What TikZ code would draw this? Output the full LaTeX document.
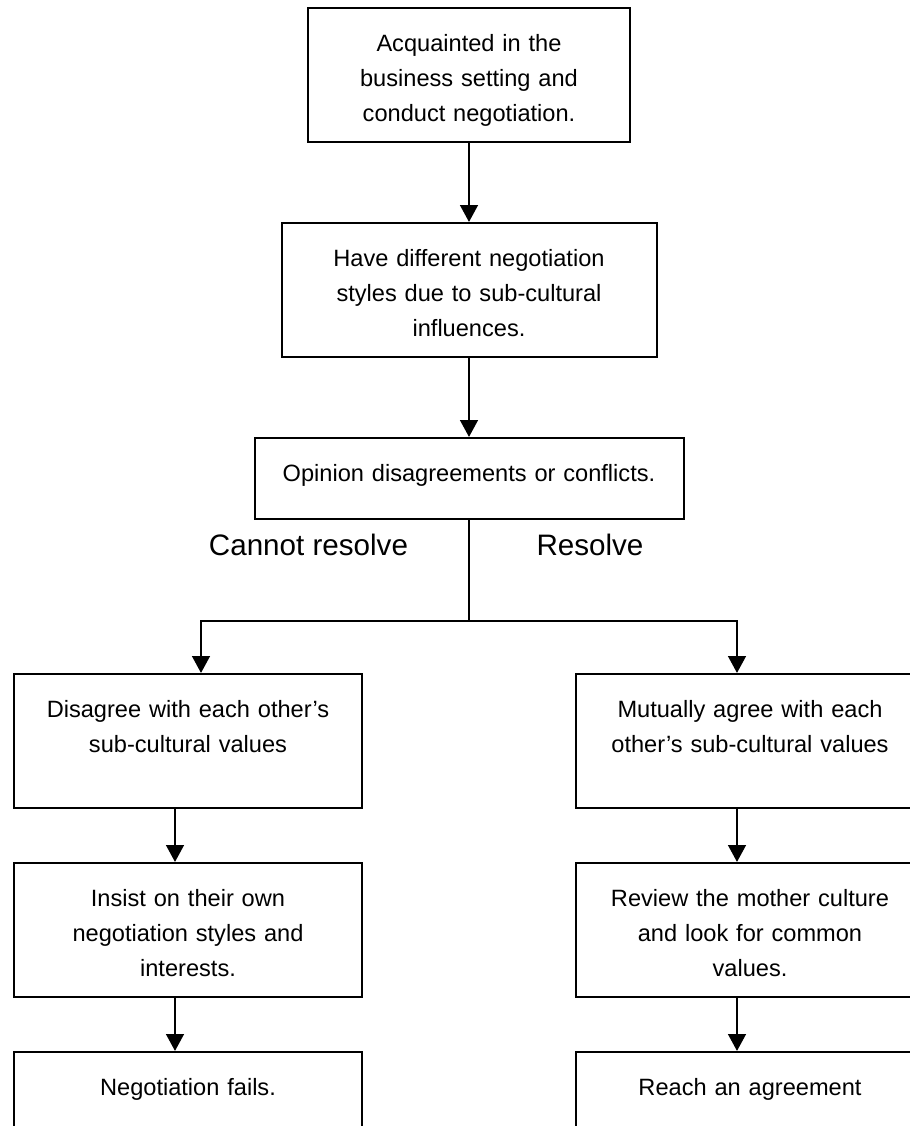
\documentclass[tikz,border=0pt]{standalone}
\usepackage{fontspec}
\setmainfont{Liberation Sans}
\usepackage{tikz}
\usetikzlibrary{arrows.meta,positioning}

\begin{document}
\begin{tikzpicture}[
    x=0.5pt, y=-0.5pt,
    every node/.style={font=\fontsize{11.8}{17.5}\selectfont},
    box/.style={
        rectangle, draw, line width=1pt,
        inner sep=0pt, align=center,
        text width=#1,
        text height=21.5pt, text depth=45.5pt
    },
    branch/.style={font=\fontsize{14.8}{18}\selectfont, anchor=base},
    arr/.style={-{Triangle[length=8.5pt,width=8.8pt]}, line width=1.4pt},
    link/.style={line width=1pt}
]

\clip (0,0) rectangle (910,1126);

% --- Main chain ---
\node[box=161pt, anchor=north] (acq) at (469,7) {Acquainted in the\\business setting and\\conduct negotiation.};

\node[box=187.5pt, below=39.5pt of acq] (styles) {Have different negotiation\\styles due to sub-cultural\\influences.};

\node[box=214.5pt, text depth=19pt, below=39.5pt of styles] (conflict) {Opinion disagreements or conflicts.};

% --- Branch point and labels ---
\coordinate (split) at (469,621);
\node[branch] (cannot) at (308.5,555) {Cannot resolve};
\node[branch] (resolve) at (590,555) {Resolve};

% --- Left branch ---
\node[box=174pt, anchor=north] (disagree) at (188,673) {Disagree with each other’s\\sub-cultural values};
\node[box=174pt, below=26.5pt of disagree] (insist) {Insist on their own\\negotiation styles and\\interests.};
\node[box=174pt, below=26.5pt of insist] (fails) {Negotiation fails.};

% --- Right branch ---
\node[box=174pt, anchor=north] (agree) at (750,673) {Mutually agree with each\\other’s sub-cultural values};
\node[box=174pt, below=26.5pt of agree] (review) {Review the mother culture\\and look for common\\values.};
\node[box=174pt, below=26.5pt of review] (reach) {Reach an agreement};

% --- Arrows ---
\draw[arr] (acq.south) -- (styles.north);
\draw[arr] (styles.south) -- (conflict.north);

% Conflict -> both branches
\draw[link] (conflict.south) -- (split);
\draw[arr] (split) -| ([xshift=6.5pt]disagree.north);
\draw[arr] (split) -| ([xshift=-6.5pt]agree.north);

% Left column
\draw[arr] ([xshift=-6.5pt]disagree.south) -- ([xshift=-6.5pt]insist.north);
\draw[arr] ([xshift=-6.5pt]insist.south) -- ([xshift=-6.5pt]fails.north);

% Right column
\draw[arr] ([xshift=-6.5pt]agree.south) -- ([xshift=-6.5pt]review.north);
\draw[arr] ([xshift=-6.5pt]review.south) -- ([xshift=-6.5pt]reach.north);

\end{tikzpicture}
\end{document}
